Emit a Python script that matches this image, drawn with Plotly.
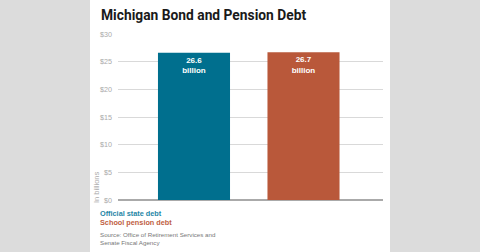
import plotly.graph_objects as go

categories = ["Official state debt", "School pension debt"]
values = [26.6, 26.7]
bar_labels = ["26.6<br>billion", "26.7<br>billion"]
colors = ["#006f8e", "#b9583a"]
tick_vals = [0, 5, 10, 15, 20, 25, 30]
tick_text = ["$0", "$5", "$10", "$15", "$20", "$25", "$30"]

W, H = 480, 252
L, R, T, B = 118, 480 - 383, 34, 252 - 200
pw, ph = W - L - R, H - T - B

def px(x):
    return (x - L) / pw

def py(y):
    return (H - B - y) / ph

fig = go.Figure()
fig.add_trace(go.Bar(
    x=[0, 1], y=values, marker_color=colors, width=0.658,
    text=bar_labels, textposition="inside", insidetextanchor="end",
    textfont=dict(color="white", size=8, family="Liberation Sans"),
    marker_line_width=0,
))
fig.update_traces(texttemplate="<b>%{text}</b>")

fig.add_shape(type="rect", xref="paper", yref="paper",
              x0=px(90), x1=px(390), y0=py(252), y1=py(0),
              fillcolor="white", line_width=0, layer="below")

ann = [
    dict(text="<b>Michigan Bond and Pension Debt</b>", x=px(99), y=py(15),
         font=dict(size=13.8, color="#1a1a1a", family="Roboto, sans-serif")),
    dict(text="<b>Official state debt</b>", x=px(98), y=py(213),
         font=dict(size=7.3, color="#1f86a6", family="Liberation Sans")),
    dict(text="<b>School pension debt</b>", x=px(98), y=py(222),
         font=dict(size=7.3, color="#c0603f", family="Liberation Sans")),
    dict(text="Source: Office of Retirement Services and<br>Senate Fiscal Agency", x=px(98), y=py(238),
         font=dict(size=6.2, color="#777777", family="Liberation Sans")),
]
for a in ann:
    fig.add_annotation(xref="paper", yref="paper", xanchor="left", yanchor="middle",
                       showarrow=False, align="left", **a)
fig.add_annotation(xref="paper", yref="paper", x=px(96), y=py(187), text="In billions",
                   textangle=-90, showarrow=False, xanchor="center", yanchor="middle",
                   font=dict(size=7.5, color="#aaaaaa", family="Liberation Sans"))

fig.update_layout(
    width=W, height=H, margin=dict(l=L, r=R, t=T, b=B),
    paper_bgcolor="#dcdcdc", plot_bgcolor="white", showlegend=False,
    xaxis=dict(range=[-0.694, 1.726], showticklabels=False, showgrid=False,
               zeroline=False, fixedrange=True),
    yaxis=dict(range=[0, 30], tickvals=tick_vals, ticktext=tick_text,
               gridcolor="#d9d9d9", gridwidth=1, zeroline=True, zerolinecolor="#aaaaaa",
               zerolinewidth=1.5, ticklabelstandoff=5,
               tickfont=dict(size=7.2, color="#aaaaaa", family="Liberation Sans")),
)
fig.write_html("out.html")
